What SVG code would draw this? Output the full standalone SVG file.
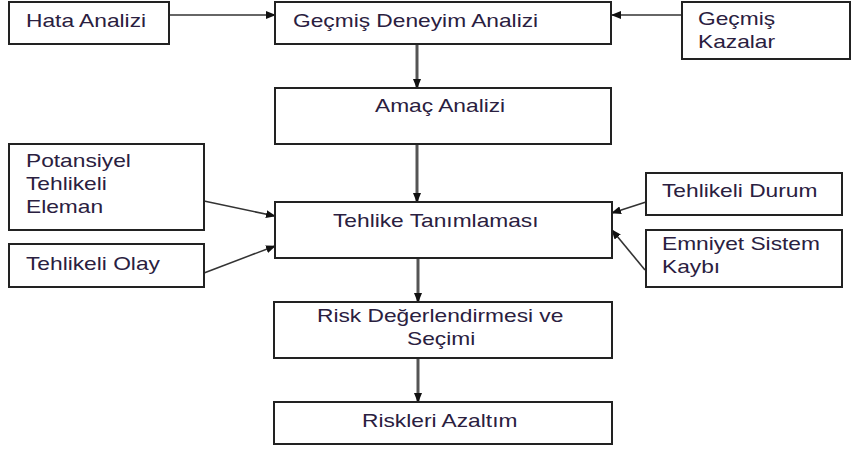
<svg xmlns="http://www.w3.org/2000/svg" width="851" height="450" viewBox="0 0 851 450">
<style>
.box{fill:#fff;stroke:#222;stroke-width:2}
.t{font-family:"Liberation Sans",Arial,sans-serif;font-size:18.5px;fill:#2a2040}
.h{stroke:#333;stroke-width:1.6;fill:none}
.v{stroke:#555;stroke-width:3;fill:none}
</style>
<defs>
<marker id="ah" markerWidth="10" markerHeight="8" refX="9" refY="4" orient="auto" markerUnits="userSpaceOnUse">
<path d="M0,0 L10,4 L0,8 Z" fill="#111"/>
</marker>
</defs>
<rect width="851" height="450" fill="#fff"/>
<g id="connectors">
<line class="h" x1="169" y1="15" x2="275" y2="15" marker-end="url(#ah)"/>
<line class="h" x1="682" y1="15" x2="612" y2="15" marker-end="url(#ah)"/>
<line class="v" x1="417" y1="44" x2="417" y2="88" marker-end="url(#ah)"/>
<line class="v" x1="417" y1="144" x2="417" y2="202" marker-end="url(#ah)"/>
<line class="h" x1="204" y1="201" x2="275" y2="216" marker-end="url(#ah)"/>
<line class="h" x1="204" y1="273" x2="275" y2="246" marker-end="url(#ah)"/>
<line class="h" x1="646" y1="202" x2="612" y2="213" marker-end="url(#ah)"/>
<line class="h" x1="645" y1="270" x2="612" y2="230" marker-end="url(#ah)"/>
<line class="v" x1="418" y1="258" x2="418" y2="302" marker-end="url(#ah)"/>
<line class="v" x1="418" y1="358" x2="418" y2="402" marker-end="url(#ah)"/>
</g>
<g id="hata">
<rect class="box" x="9" y="2" width="160" height="42"/>
<text class="t" transform="translate(26,27) scale(1.23,1)">Hata Analizi</text>
</g>
<g id="gecmis-deneyim">
<rect class="box" x="275" y="2" width="336" height="42"/>
<text class="t" transform="translate(293,27) scale(1.23,1)">Geçmiş Deneyim Analizi</text>
</g>
<g id="gecmis-kazalar">
<rect class="box" x="682" y="2" width="168" height="57"/>
<text class="t" transform="translate(698,25) scale(1.23,1)">Geçmiş</text>
<text class="t" transform="translate(698,48) scale(1.23,1)">Kazalar</text>
</g>
<g id="amac">
<rect class="box" x="275" y="88" width="336" height="56"/>
<text class="t" transform="translate(375,112) scale(1.23,1)">Amaç Analizi</text>
</g>
<g id="potansiyel">
<rect class="box" x="9" y="144" width="195" height="86"/>
<text class="t" transform="translate(26,167) scale(1.23,1)">Potansiyel</text>
<text class="t" transform="translate(26,190) scale(1.23,1)">Tehlikeli</text>
<text class="t" transform="translate(26,213) scale(1.23,1)">Eleman</text>
</g>
<g id="olay">
<rect class="box" x="9" y="244" width="195" height="43"/>
<text class="t" transform="translate(26,270) scale(1.23,1)">Tehlikeli Olay</text>
</g>
<g id="tehlike-tanimlamasi">
<rect class="box" x="275" y="202" width="337" height="56"/>
<text class="t" transform="translate(333,227) scale(1.23,1)">Tehlike Tanımlaması</text>
</g>
<g id="durum">
<rect class="box" x="646" y="173" width="196" height="42"/>
<text class="t" transform="translate(662,197) scale(1.23,1)">Tehlikeli Durum</text>
</g>
<g id="emniyet">
<rect class="box" x="646" y="230" width="196" height="57"/>
<text class="t" transform="translate(662,250) scale(1.23,1)">Emniyet Sistem</text>
<text class="t" transform="translate(662,273) scale(1.23,1)">Kaybı</text>
</g>
<g id="risk-degerlendirme">
<rect class="box" x="274" y="302" width="338" height="56"/>
<text class="t" transform="translate(317,322) scale(1.23,1)">Risk Değerlendirmesi ve</text>
<text class="t" transform="translate(407,345) scale(1.23,1)">Seçimi</text>
</g>
<g id="riskleri-azaltim">
<rect class="box" x="274" y="402" width="338" height="42"/>
<text class="t" transform="translate(362,427) scale(1.23,1)">Riskleri Azaltım</text>
</g>
</svg>
